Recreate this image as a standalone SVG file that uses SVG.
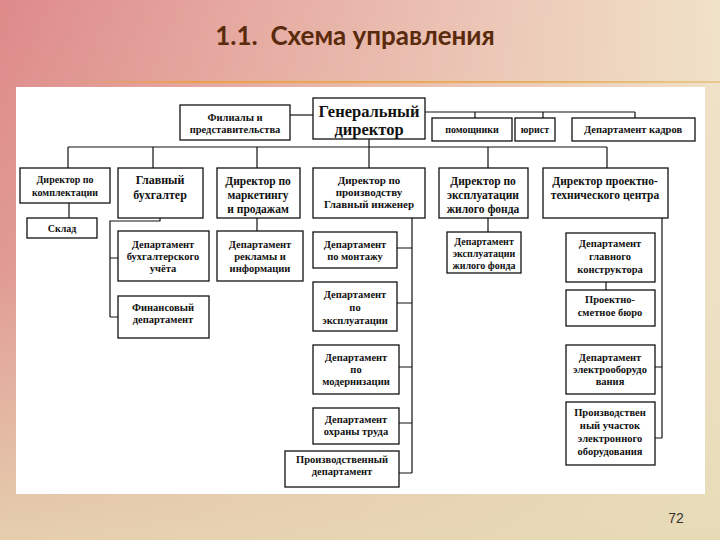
<svg xmlns="http://www.w3.org/2000/svg" width="720" height="540" viewBox="0 0 720 540">
<defs>
<linearGradient id="bg" x1="0" y1="0" x2="1" y2="0">
<stop offset="0" stop-color="#de8a8a"/>
<stop offset="0.35" stop-color="#e6aaa2"/>
<stop offset="0.7" stop-color="#ecc8b8"/>
<stop offset="1" stop-color="#f0e2c8"/>
</linearGradient>
<linearGradient id="bgv" x1="0" y1="0" x2="0" y2="1">
<stop offset="0" stop-color="#e8dcb8" stop-opacity="0"/>
<stop offset="0.5" stop-color="#e8dcb8" stop-opacity="0.2"/>
<stop offset="1" stop-color="#e6dab4" stop-opacity="0.85"/>
</linearGradient>
<linearGradient id="rule" x1="0" y1="0" x2="1" y2="0">
<stop offset="0" stop-color="#e8a050" stop-opacity="0"/>
<stop offset="0.2" stop-color="#eba048"/>
<stop offset="0.7" stop-color="#e8b060"/>
<stop offset="1" stop-color="#e8c890"/>
</linearGradient>
<style>
.box{fill:#ffffff;stroke:#111;stroke-width:1.3}
.t{font-family:"Liberation Serif","DejaVu Serif",serif;font-weight:bold;fill:#111;text-anchor:middle}
.c{fill:none;stroke:#111;stroke-width:1.2}
</style>
</defs>
<rect x="0" y="0" width="720" height="540" fill="url(#bg)"/>
<rect x="0" y="0" width="720" height="540" fill="url(#bgv)"/>
<rect x="60" y="81" width="660" height="2" fill="url(#rule)"/>
<text x="355" y="45" font-family="Lato,'Open Sans',sans-serif" font-weight="bold" font-size="26" fill="#5a2a0c" text-anchor="middle" xml:space="preserve">1.1.  Схема управления</text>
<rect x="16" y="87" width="689" height="407" fill="#ffffff"/>

<g id="connectors" class="c">
<path d="M290 115 H313"/>
<path d="M425 112 H635 M475 112 V118 M543 112 V118 M635 112 V118"/>
<path d="M369 139 V168"/>
<path d="M68 147 H607 M68 147 V168 M153 147 V168 M257 147 V168 M488 147 V168 M607 147 V168"/>
<path d="M69 203 V218"/>
<path d="M160 218 V221 H110 V317 M110 258 H118 M110 317 H118"/>
<path d="M257 218 V231"/>
<path d="M412 218 V473 M397 248 H412 M397 303 H412 M399 367 H412 M399 423 H412 M399 473 H412"/>
<path d="M488 218 V232"/>
<path d="M662 218 V438 M655 367 H662 M655 438 H662"/>
<path d="M606 282 V290"/>
</g>

<g id="filialy"><rect class="box" x="180" y="105" width="110" height="35"/>
<text class="t" font-size="10.5"><tspan x="235" y="121">Филиалы и</tspan><tspan x="235" y="133">представительства</tspan></text></g>
<g id="gen"><rect class="box" x="313" y="98" width="112" height="41"/>
<text class="t" font-size="16.5"><tspan x="369" y="117">Генеральный</tspan><tspan x="369" y="135">директор</tspan></text></g>
<g id="pomoshchniki"><rect class="box" x="432" y="118" width="80" height="23"/>
<text class="t" font-size="10" x="472" y="133">помощники</text></g>
<g id="yurist"><rect class="box" x="515" y="118" width="40" height="23"/>
<text class="t" font-size="10" x="535" y="133">юрист</text></g>
<g id="kadry"><rect class="box" x="572" y="118" width="123" height="23"/>
<text class="t" font-size="10.5" x="633" y="133">Департамент кадров</text></g>

<g id="dir-kompl"><rect class="box" x="20" y="168" width="90" height="35"/>
<text class="t" font-size="10"><tspan x="65" y="183">Директор по</tspan><tspan x="65" y="196">комплектации</tspan></text></g>
<g id="glavbukh"><rect class="box" x="118" y="168" width="85" height="50"/>
<text class="t" font-size="12"><tspan x="160" y="184">Главный</tspan><tspan x="160" y="199">бухгалтер</tspan></text></g>
<g id="dir-marketing"><rect class="box" x="217" y="168" width="83" height="50"/>
<text class="t" font-size="11.5"><tspan x="258" y="185">Директор по</tspan><tspan x="258" y="199">маркетингу</tspan><tspan x="258" y="213">и продажам</tspan></text></g>
<g id="dir-proizv"><rect class="box" x="313" y="168" width="112" height="50"/>
<text class="t" font-size="11"><tspan x="369" y="184">Директор по</tspan><tspan x="369" y="196">производству</tspan><tspan x="369" y="208">Главный инженер</tspan></text></g>
<g id="dir-ekspl"><rect class="box" x="439" y="168" width="89" height="50"/>
<text class="t" font-size="11.5"><tspan x="483" y="185">Директор по</tspan><tspan x="483" y="199">эксплуатации</tspan><tspan x="483" y="213">жилого фонда</tspan></text></g>
<g id="dir-proekt"><rect class="box" x="543" y="168" width="125" height="50"/>
<text class="t" font-size="11.5"><tspan x="605" y="185">Директор проектно-</tspan><tspan x="605" y="199">технического центра</tspan></text></g>

<g id="sklad"><rect class="box" x="27" y="218" width="70" height="20"/>
<text class="t" font-size="10" x="62" y="232">Склад</text></g>
<g id="buh-uchet"><rect class="box" x="118" y="231" width="91" height="50"/>
<text class="t" font-size="10.5"><tspan x="163" y="248">Департамент</tspan><tspan x="163" y="260">бухгалтерского</tspan><tspan x="163" y="272">учёта</tspan></text></g>
<g id="finans"><rect class="box" x="118" y="296" width="91" height="42"/>
<text class="t" font-size="10.5"><tspan x="163" y="311">Финансовый</tspan><tspan x="163" y="323">департамент</tspan></text></g>
<g id="reklama"><rect class="box" x="217" y="231" width="86" height="50"/>
<text class="t" font-size="10.5"><tspan x="260" y="248">Департамент</tspan><tspan x="260" y="260">рекламы и</tspan><tspan x="260" y="272">информации</tspan></text></g>

<g id="montazh"><rect class="box" x="313" y="232" width="84" height="36"/>
<text class="t" font-size="10.5"><tspan x="355" y="248">Департамент</tspan><tspan x="355" y="260">по монтажу</tspan></text></g>
<g id="ekspl-dept"><rect class="box" x="313" y="282" width="84" height="49"/>
<text class="t" font-size="10.5"><tspan x="355" y="298">Департамент</tspan><tspan x="355" y="311">по</tspan><tspan x="355" y="324">эксплуатации</tspan></text></g>
<g id="modern"><rect class="box" x="313" y="345" width="86" height="49"/>
<text class="t" font-size="10.5"><tspan x="356" y="361">Департамент</tspan><tspan x="356" y="373">по</tspan><tspan x="356" y="385">модернизации</tspan></text></g>
<g id="okhrana"><rect class="box" x="313" y="408" width="86" height="36"/>
<text class="t" font-size="10.5"><tspan x="356" y="423">Департамент</tspan><tspan x="356" y="435">охраны труда</tspan></text></g>
<g id="proizv-dept"><rect class="box" x="285" y="451" width="114" height="36"/>
<text class="t" font-size="10.5"><tspan x="342" y="463">Производственный</tspan><tspan x="342" y="475">департамент</tspan></text></g>

<g id="zhil-fond"><rect class="box" x="447" y="232" width="74" height="41"/>
<text class="t" font-size="10"><tspan x="484" y="245">Департамент</tspan><tspan x="484" y="257">эксплуатации</tspan><tspan x="484" y="269">жилого фонда</tspan></text></g>

<g id="glav-konstr"><rect class="box" x="566" y="233" width="89" height="49"/>
<text class="t" font-size="10.5"><tspan x="610" y="247">Департамент</tspan><tspan x="610" y="260">главного</tspan><tspan x="610" y="273">конструктора</tspan></text></g>
<g id="proekt-smet"><rect class="box" x="566" y="290" width="89" height="36"/>
<text class="t" font-size="10.5"><tspan x="610" y="303">Проектно-</tspan><tspan x="610" y="316">сметное бюро</tspan></text></g>
<g id="elektro"><rect class="box" x="566" y="345" width="89" height="49"/>
<text class="t" font-size="10.5"><tspan x="610" y="361">Департамент</tspan><tspan x="610" y="373">электрооборудо</tspan><tspan x="610" y="385">вания</tspan></text></g>
<g id="uchastok"><rect class="box" x="566" y="402" width="89" height="63"/>
<text class="t" font-size="10.5"><tspan x="610" y="416">Производствен</tspan><tspan x="610" y="429">ный участок</tspan><tspan x="610" y="442">электронного</tspan><tspan x="610" y="455">оборудования</tspan></text></g>

<text x="676" y="523" font-family="'Liberation Sans',sans-serif" font-size="14" fill="#333" text-anchor="middle">72</text>
</svg>
